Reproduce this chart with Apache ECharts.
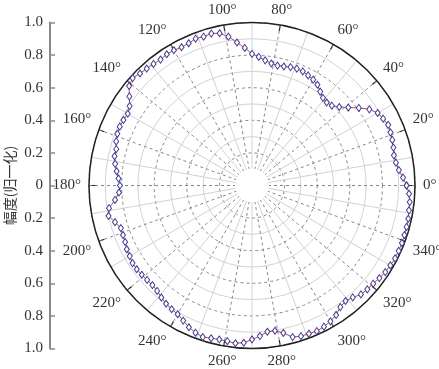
<!DOCTYPE html>
<html>
<head>
<meta charset="utf-8">
<script src="https://cdn.jsdelivr.net/npm/echarts@6/dist/echarts.min.js"></script>
<style>
html,body{margin:0;padding:0;background:#fff;}
#chart{width:439px;height:369px;}
</style>
</head>
<body>
<div id="chart"></div>
<script>
// angles (degrees) of measured points
var angles = [0,3,6,9,12,15,18,21,24,27,30,33,36,39,42,45,48,51,54,57,
  60,63,66,69,72,75,78,81,84,87,90,93,96,99,102,105,108,111,114,117,
  120,123,126,129,132,135,138,141,144,147,150,153,156,159,162,165,168,171,174,177,
  180,183,186,189,192,195,198,201,204,207,210,213,216,219,222,225,228,231,234,237,
  240,243,246,249,252,255,258,261,264,267,270,273,276,279,282,285,288,291,294,297,
  300,303,306,309,312,315,318,321,324,327,330,333,336,339,342,345,348,351,354,357];
// normalized amplitude
var amplitude = [0.948,0.928,0.906,0.894,0.890,0.898,0.905,0.910,0.915,0.903,
  0.890,0.858,0.810,0.760,0.720,0.693,0.685,0.692,0.712,0.737,
  0.750,0.758,0.766,0.768,0.764,0.756,0.752,0.758,0.772,0.790,
  0.808,0.845,0.882,0.925,0.955,0.965,0.960,0.965,0.955,0.952,
  0.958,0.960,0.955,0.960,0.965,0.972,0.985,0.970,0.930,0.895,
  0.880,0.885,0.888,0.885,0.876,0.862,0.862,0.850,0.835,0.820,
  0.810,0.817,0.845,0.888,0.900,0.870,0.846,0.848,0.852,0.862,
  0.866,0.874,0.874,0.870,0.866,0.864,0.870,0.884,0.897,0.905,
  0.912,0.930,0.952,0.967,0.978,0.970,0.966,0.967,0.973,0.966,
  0.945,0.925,0.902,0.902,0.925,0.963,0.972,0.974,0.978,0.972,
  0.962,0.947,0.922,0.912,0.924,0.945,0.952,0.957,0.966,0.975,
  0.980,0.985,0.985,0.985,0.983,0.982,0.980,0.975,0.973,0.965];
var angleTicks = [0,20,40,60,80,100,120,140,160,180,200,220,240,260,280,300,320,340];
var yTicks = [-1,-0.8,-0.6,-0.4,-0.2,0,0.2,0.4,0.6,0.8,1];
var yName = '幅度(归一化)';

var data = angles.map(function(a,i){return [amplitude[i], a];});
data.push([amplitude[0], 360]); // close the loop

var cx = 252, cy = 185.5, R = 163;
var chart = echarts.init(document.getElementById('chart'), null, {renderer:'canvas'});
var serif = 'Liberation Serif';
chart.setOption({
  animation:false,
  backgroundColor:'#fff',
  grid:{left:50, top:cy-R, height:2*R, width:1, containLabel:false},
  xAxis:{type:'value', show:false, min:0, max:1},
  yAxis:{type:'value', min:-1, max:1, interval:0.2,
    axisLine:{show:true, lineStyle:{color:'#8a8a8a', width:2}},
    axisTick:{show:true, inside:true, length:5, lineStyle:{color:'#8a8a8a', width:1.5}},
    axisLabel:{margin:7, fontFamily:serif, fontSize:15, color:'#333',
      formatter:function(v){ var a=Math.abs(v); return a<1e-9?'0':a.toFixed(1);} },
    splitLine:{show:false},
    name:yName, nameLocation:'middle', nameGap:33, nameRotate:90,
    nameTextStyle:{fontFamily:'Noto Sans CJK SC', fontSize:14, color:'#333'}
  },
  polar:{center:[cx,cy], radius:[0,R]},
  angleAxis:{type:'value', min:0, max:360, interval:20, startAngle:0, clockwise:false, z:0,
    axisLine:{show:true, lineStyle:{color:'#222', width:1.5}},
    axisTick:{show:true, inside:true, length:6, lineStyle:{color:'#222', width:1.2}},
    axisLabel:{show:true, margin:8, fontFamily:serif, fontSize:15, color:'#333', formatter:'{value}°'},
    splitLine:{show:true, lineStyle:{color:'#888', width:1, type:[3,3]}},
    minorTick:{show:false, splitNumber:2},
    minorSplitLine:{show:true, lineStyle:{color:'#d2d2d2', width:1}}
  },
  radiusAxis:{type:'value', min:0, max:1, interval:0.2, z:0,
    axisLine:{show:false}, axisTick:{show:false}, axisLabel:{show:false},
    splitLine:{show:true, lineStyle:{color:'#888', width:1, type:[3,3]}},
    minorTick:{show:false, splitNumber:2},
    minorSplitLine:{show:true, lineStyle:{color:'#d2d2d2', width:1}}
  },
  graphic:[{type:'circle', shape:{cx:cx, cy:cy, r:R*0.1+0.6}, style:{fill:'#fff'}, z:1, silent:true}],
  series:[{type:'line', coordinateSystem:'polar', data:data, z:5,
    lineStyle:{color:'#d8344a', width:1},
    symbol:'diamond', symbolSize:[5,7], showAllSymbol:true,
    itemStyle:{color:'#fff', borderColor:'#3c3c96', borderWidth:1}
  }]
});
</script>
</body>
</html>
